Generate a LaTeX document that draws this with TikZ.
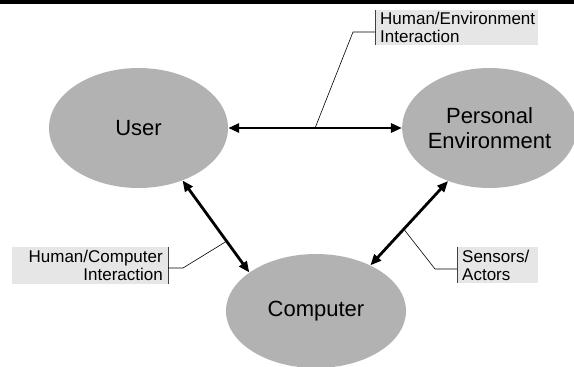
\documentclass[tikz,border=0pt]{standalone}
\usepackage{fontspec}
\setmainfont{Liberation Sans}
\usetikzlibrary{shapes.geometric,arrows.meta}
\definecolor{blobgray}{RGB}{178,178,178}
\definecolor{tagfill}{RGB}{230,230,230}
\begin{document}
\begin{tikzpicture}[x=1pt,y=-1pt,
  blob/.style={ellipse,fill=blobgray,inner sep=0pt,align=center,font=\fontsize{22}{25}\selectfont},
  link/.style={{Triangle[length=11pt,width=9pt]}-{Triangle[length=11pt,width=9pt]},line width=2.8pt},
  tag/.style={fill=tagfill,inner xsep=5pt,inner ysep=0pt,font=\fontsize{17}{18}\selectfont},
  leader/.style={line width=0.6pt},
  tagbar/.style={line width=1pt,black!75}]
  \useasboundingbox (0,0) rectangle (574,367);

  % Top rule
  \fill (0,0) rectangle (574,3.5);

  % Ellipses
  \node[blob,minimum width=179pt,minimum height=120pt] (user) at (138.5,128) {User};
  \node[blob,minimum width=169pt,minimum height=120pt] (env) at (489.5,128) {Personal\\Environment};
  \node[blob,minimum width=180pt,minimum height=114pt] (comp) at (316,311) {Computer};

  % Labels
  \node[tag,anchor=west,text width=153pt,align=left,minimum height=35pt] (hetag) at (375,27.5) {Human/Environment\\Interaction};
  \node[tag,anchor=east,text width=146pt,align=right,minimum height=37pt] (hctag) at (168,265.5) {Human/Computer\\Interaction};
  \node[tag,anchor=west,text width=71pt,align=left,minimum height=36pt] (satag) at (457,265) {Sensors/\\Actors};
  \draw[tagbar] (hetag.north west) -- (hetag.south west);
  \draw[tagbar] (hctag.north east) -- (hctag.south east);
  \draw[tagbar] (satag.north west) -- (satag.south west);

  % Arrows
  \draw[link] (user) -- coordinate[pos=.5] (hemid) (env);
  \draw[link] (user.-50) -- coordinate[pos=.66] (hcmid) (comp.150);
  \draw[link] (env.-128) -- coordinate[pos=.57] (samid) (comp.40);

  % Leaders
  \coordinate (hekink) at (353,32);
  \draw[leader] (hemid) -- (hekink) -- (hekink -| hetag.west);
  \coordinate (hckink) at (183,268);
  \draw[leader] (hcmid) -- (hckink) -- (hckink -| hctag.east);
  \coordinate (sakink) at (435,269);
  \draw[leader] (samid) -- (sakink) -- (sakink -| satag.west);
\end{tikzpicture}
\end{document}
